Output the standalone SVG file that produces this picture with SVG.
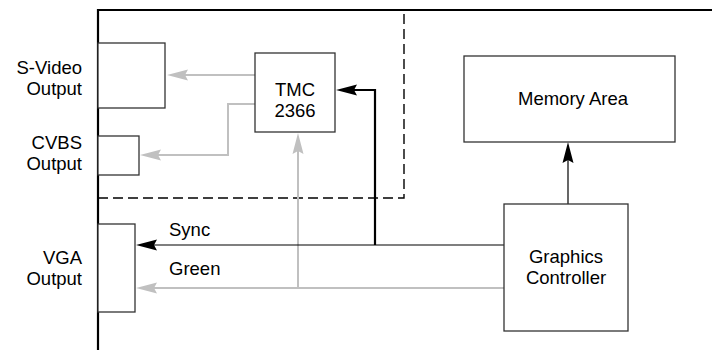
<svg xmlns="http://www.w3.org/2000/svg" width="712" height="350" viewBox="0 0 712 350">
<defs>
<style>
text{font-family:"Liberation Sans",Arial,sans-serif;font-size:18.5px;fill:#000}
.box{fill:#fff;stroke:#333;stroke-width:1.3}
.blk{fill:none;stroke:#000}
.gry{fill:none;stroke:#c0c0c0;stroke-width:2}
.ahg{fill:#c0c0c0}
.ahb{fill:#000}
.r{text-anchor:end}
.m{text-anchor:middle}
</style>
</defs>
<rect width="712" height="350" fill="#fff"/>
<g id="board">
<path d="M98,350V10H712" fill="none" stroke="#000" stroke-width="2.2"/>
<path d="M98,198H404V10" fill="none" stroke="#000" stroke-width="1.4" stroke-dasharray="10 5"/>
</g>
<g id="connectors">
<path d="M255,75H180" class="gry"/>
<path d="M255,104H228V155H150" class="gry"/>
<path d="M504,288H150" class="gry"/>
<path d="M298,288V145" class="gry"/>
<path d="M504,245H150" class="blk" stroke-width="1.2"/>
<path d="M375,245V90H350" class="blk" stroke-width="2.2"/>
<path d="M568,204V155" class="blk" stroke-width="1.2"/>
<polygon points="167,75 188,69.5 185,75 188,80.5" class="ahg"/>
<polygon points="140,155 161,149.5 158,155 161,160.5" class="ahg"/>
<polygon points="136,288 157,282.5 154,288 157,293.5" class="ahg"/>
<polygon points="298,133 292.5,154 298,151 303.5,154" class="ahg"/>
<polygon points="136,245 157,239.5 154,245 157,250.5" class="ahb"/>
<polygon points="336,90 357,84.5 354,90 357,95.5" class="ahb"/>
<polygon points="568,142 562.5,163 568,160 573.5,163" class="ahb"/>
<text x="169" y="236">Sync</text>
<text x="169" y="275">Green</text>
</g>
<g id="svideo">
<rect x="98" y="43" width="67" height="65" class="box"/>
<text x="82" y="74.2" class="r">S-Video</text>
<text x="82" y="95" class="r">Output</text>
</g>
<g id="cvbs">
<rect x="98" y="136" width="41" height="39" class="box"/>
<text x="82" y="149.2" class="r">CVBS</text>
<text x="82" y="170" class="r">Output</text>
</g>
<g id="vga">
<rect x="98" y="224" width="37" height="88" class="box"/>
<text x="82" y="263.7" class="r">VGA</text>
<text x="82" y="284.5" class="r">Output</text>
</g>
<g id="tmc">
<rect x="255" y="53" width="80" height="79" class="box"/>
<text x="295" y="96.2" class="m">TMC</text>
<text x="295" y="117" class="m">2366</text>
</g>
<g id="memory">
<rect x="464" y="56" width="211" height="86" class="box"/>
<text x="573" y="105" class="m">Memory Area</text>
</g>
<g id="graphics">
<rect x="504" y="204" width="124" height="127" class="box"/>
<text x="566" y="262.7" class="m">Graphics</text>
<text x="566" y="283.5" class="m">Controller</text>
</g>
</svg>
